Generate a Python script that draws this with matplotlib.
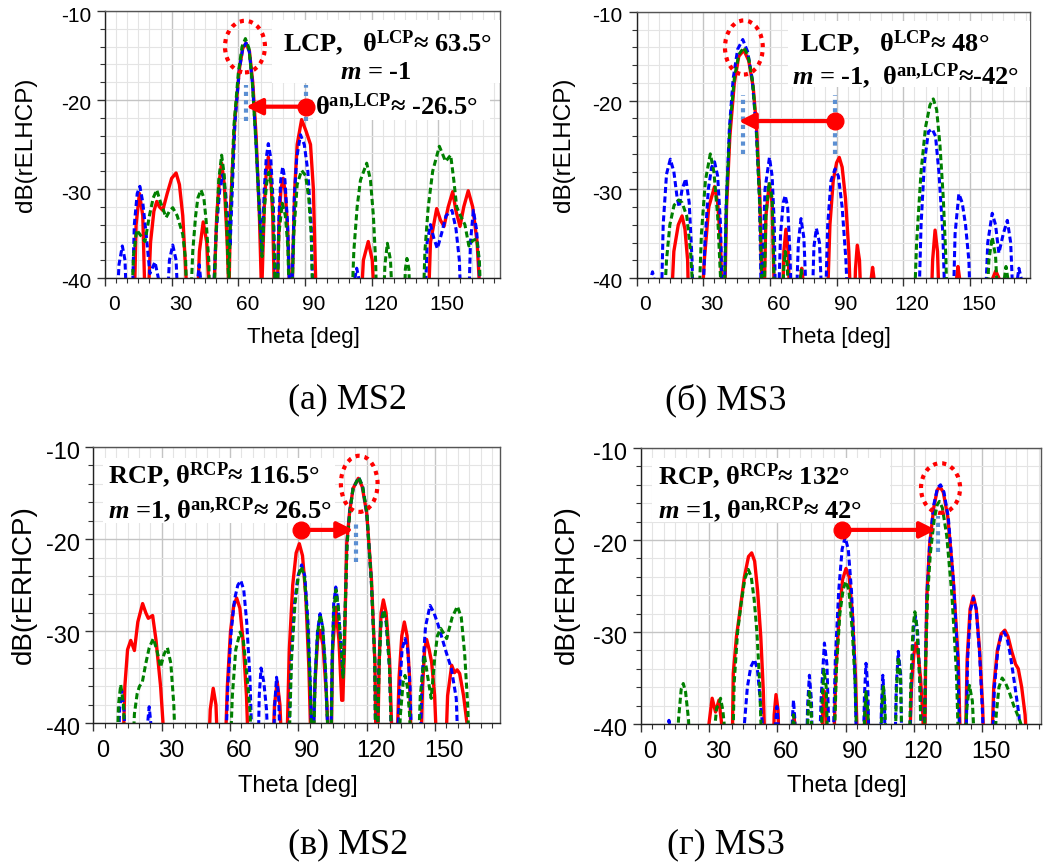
import matplotlib
matplotlib.use("Agg")
import matplotlib.pyplot as plt
from matplotlib.patches import Ellipse, Rectangle
from matplotlib.transforms import ScaledTranslation
from matplotlib.ticker import MultipleLocator

plt.rcParams["axes.unicode_minus"] = False
plt.rcParams["mathtext.fontset"] = "custom"
plt.rcParams["mathtext.rm"] = "Liberation Serif:bold"
plt.rcParams["mathtext.bf"] = "Liberation Serif:bold"
plt.rcParams["mathtext.it"] = "Liberation Serif:italic:bold"

# ---------------------------------------------------------------------------
# Data: (theta [deg], dB).  Points below -40 are clipped.
# ---------------------------------------------------------------------------
# (a) MS2, rELHCP
A_RED = [(13.0, -45), (14.0, -34), (15.5, -30.5), (17.0, -33), (18.3, -45),
         (19.0, -45), (20.5, -36), (22.0, -32.5), (23.3, -31.4), (24.5, -32), (26.0, -32.4),
         (28.0, -30.5), (30.0, -28.8), (32.0, -28.2), (33.5, -29.5), (35.0, -33), (36.5, -40), (37.2, -45),
         (41.3, -45), (42.5, -37), (44.2, -33.7), (45.8, -36), (47.5, -45),
         (48.5, -45), (50.3, -33), (51.5, -29), (52.5, -27.1), (53.7, -29.5), (55.0, -36), (55.8, -42),
         (56.5, -32), (58.5, -22), (60.5, -16.5), (62.0, -14.2), (63.5, -13.6), (65.0, -14.5),
         (66.5, -18), (68.0, -24), (69.5, -33), (70.5, -42),
         (71.7, -32), (72.6, -28), (73.5, -26.4), (74.5, -28), (75.5, -33), (76.5, -45),
         (77.2, -45), (78.3, -34), (79.2, -30), (80.2, -28.8), (81.2, -30.5), (82.3, -35), (83.5, -45),
         (83.8, -45), (85.4, -30), (86.5, -25), (88.5, -22.2), (90.5, -23.5), (92.5, -25), (93.8, -30), (95.3, -45),
         (114.8, -45), (116.3, -38), (118.5, -35.9), (120.3, -38), (121.7, -45),
         (145.3, -45), (146.5, -36), (149.3, -32.2), (151.0, -33.5), (152.6, -34.2), (154.5, -32),
         (156.5, -30.3), (158.0, -32.5), (159.8, -34.2), (161.5, -32), (163.5, -30.2), (165.5, -32),
         (167.5, -36), (169.5, -45)]
A_BLUE = [(5.0, -45), (6.3, -38.5), (7.8, -36.4), (9.0, -38), (10.0, -45),
          (12.0, -45), (13.2, -34), (14.5, -30.5), (15.7, -29.7), (17.0, -31.5), (18.5, -35),
          (20.2, -39.5), (22.5, -38.2), (24.0, -40), (25.0, -45),
          (27.6, -45), (29.0, -38), (30.5, -36.3), (32.0, -38), (33.2, -45),
          (41.3, -45), (41.8, -40), (42.4, -38.5), (43.0, -40), (43.6, -45),
          (48.3, -45), (50.0, -35), (51.7, -30), (53.0, -28.4), (54.3, -30.5), (55.5, -34), (56.3, -36.5),
          (57.0, -32), (58.5, -22.5), (60.5, -16.5), (62.0, -14.2), (63.5, -13.6), (65.0, -14.6),
          (66.5, -18.5), (68.0, -25), (69.5, -32), (70.7, -37.2),
          (71.7, -30), (72.6, -26.5), (73.5, -24.9), (74.6, -26.5), (75.8, -32), (77.0, -45),
          (77.3, -45), (78.3, -33), (79.1, -29), (80.0, -27.5), (81.0, -29), (82.2, -34), (83.5, -45),
          (83.8, -45), (85.2, -31), (86.3, -26.5), (88.0, -23.9), (89.7, -25), (91.3, -28), (92.8, -34), (93.8, -45),
          (112.0, -45), (112.5, -40), (113.3, -38.9), (114.2, -40), (114.7, -45),
          (143.8, -45), (145.0, -36), (146.5, -34), (148.0, -35.5), (149.6, -36.7), (151.5, -35),
          (153.5, -33), (156.2, -32.4), (158.0, -34.5), (159.5, -38), (160.5, -45),
          (163.5, -45), (164.5, -36), (165.8, -32.4), (167.2, -34.5), (168.3, -38), (169.3, -45)]
A_GREEN = [(11.8, -45), (12.8, -37.5), (14.3, -34.6), (16.0, -35.2), (18.0, -35.9), (20.0, -33),
           (21.7, -31), (23.3, -30.1), (25.0, -31.5), (27.5, -33.2), (29.0, -32.5), (30.5, -32.1),
           (32.5, -33), (35.0, -35.1), (36.3, -38), (37.0, -45),
           (38.2, -45), (39.5, -37), (40.8, -33), (41.8, -31), (43.2, -30.1), (44.5, -31), (45.5, -33.5),
           (46.7, -38), (47.3, -45),
           (48.7, -45), (50.0, -35), (51.2, -29), (52.5, -26.2), (53.7, -28.5), (54.8, -34), (55.7, -41),
           (56.5, -33), (58.0, -23), (60.0, -17), (61.7, -14), (63.2, -13.1), (64.8, -14.2),
           (66.3, -18), (68.0, -25), (69.5, -33), (70.7, -37.6),
           (71.8, -32), (72.8, -29.3), (73.8, -28.1), (74.8, -29.5), (75.8, -33.5), (77.0, -45),
           (77.3, -45), (78.3, -35), (79.8, -31.6), (81.2, -33), (82.3, -36.5), (83.2, -45),
           (83.8, -45), (85.0, -35), (86.5, -29.5), (88.5, -27.9), (90.3, -28.5), (91.7, -31), (92.8, -35), (93.8, -45),
           (110.8, -45), (112.0, -37), (113.5, -32), (115.0, -29), (117.8, -27.1), (119.5, -29),
           (120.8, -33), (121.8, -38), (122.5, -45),
           (125.0, -45), (126.0, -38.5), (127.1, -36.1), (128.5, -38), (129.8, -45),
           (134.5, -45), (135.2, -39), (135.9, -37.8), (136.8, -39), (137.5, -45),
           (143.0, -45), (144.0, -37), (145.5, -32), (147.5, -28), (150.5, -25.2), (153.3, -26.9),
           (155.6, -26.2), (157.0, -29), (158.3, -32), (160.0, -33), (162.0, -34), (163.8, -36.4),
           (165.5, -35.8), (167.3, -35.6), (168.5, -38), (169.5, -45)]

# (б) MS3, rELHCP
B_RED = [(15.3, -45), (16.8, -37), (18.8, -34), (20.5, -33), (21.8, -34.5), (23.0, -38), (23.6, -45),
         (29.0, -45), (30.5, -38), (32.5, -32), (35.1, -29.7), (36.5, -31.5), (37.8, -36), (38.7, -45),
         (39.5, -45), (40.5, -32), (42.0, -24), (44.0, -18), (46.0, -15), (48.3, -14.3), (50.5, -15.5),
         (52.5, -18.5), (54.0, -23), (55.5, -31), (56.8, -45),
         (57.2, -45), (58.2, -33), (59.7, -29.4), (61.0, -31.5), (62.3, -45),
         (65.5, -45), (66.3, -37), (67.2, -34.5), (68.2, -37), (69.2, -45),
         (73.3, -45), (73.8, -40), (74.3, -38.9), (74.8, -40), (75.3, -45),
         (85.6, -45), (87.0, -34), (88.5, -29), (90.0, -27), (91.2, -26.4), (92.5, -27.5), (94.0, -31),
         (95.5, -37), (96.6, -45),
         (97.8, -45), (98.5, -39), (99.3, -36.3), (100.3, -38), (101.3, -45),
         (105.0, -45), (105.6, -40), (106.2, -38.8), (106.8, -40), (107.3, -45),
         (132.3, -45), (133.2, -38), (134.3, -34.6), (135.4, -37), (136.4, -45),
         (143.6, -45), (144.0, -40), (144.6, -38.7), (145.3, -40), (145.8, -45),
         (159.3, -45), (160.3, -40), (161.6, -39.2), (163.0, -40), (164.0, -45)]
B_BLUE = [(6.0, -45), (6.5, -40), (7.2, -39.3), (7.8, -40), (8.3, -45),
          (11.0, -45), (12.0, -34), (13.5, -28.3), (15.2, -26.6), (16.8, -28), (18.3, -31), (19.2, -32),
          (20.5, -30), (22.2, -28.8), (23.7, -31.5), (25.0, -38), (25.6, -45),
          (29.5, -45), (30.8, -36), (32.3, -30), (33.8, -27.5), (35.1, -26.9), (36.5, -28.5), (37.8, -34), (38.8, -45),
          (39.3, -45), (40.3, -32), (41.8, -23), (43.5, -17.5), (45.5, -14.2), (47.8, -13.1), (50.0, -14.5),
          (52.0, -17.5), (53.8, -23), (55.3, -31), (56.3, -45),
          (56.8, -38), (57.8, -30), (59.8, -26.4), (61.0, -28.5), (62.0, -34), (62.6, -45),
          (63.6, -45), (64.8, -35), (66.0, -31.5), (66.9, -30.7), (68.0, -32), (69.0, -37), (69.9, -45),
          (71.6, -45), (72.8, -36), (74.0, -33.3), (75.3, -35.5), (76.8, -45),
          (78.8, -45), (79.8, -36.5), (80.9, -34.4), (82.3, -36), (83.8, -45),
          (84.8, -45), (86.0, -34), (87.5, -29), (89.3, -27.7), (90.8, -28.5), (92.5, -32), (94.2, -38), (95.3, -45),
          (126.8, -45), (128.0, -34), (129.5, -27), (131.3, -23.5), (133.0, -23.2), (134.5, -24),
          (136.0, -28), (137.8, -35), (139.0, -45),
          (142.3, -45), (143.3, -35), (145.0, -30.5), (146.5, -31.5), (148.0, -34), (149.5, -38), (150.4, -45),
          (156.6, -45), (158.0, -36), (160.0, -32.7), (161.5, -34), (163.0, -37.2), (165.0, -35),
          (166.8, -33.5), (168.3, -36), (169.8, -45),
          (171.0, -45), (171.4, -40), (172.0, -38.9), (173.0, -40), (173.6, -45)]
B_GREEN = [(12.0, -45), (13.5, -38), (15.0, -34), (16.9, -31.8), (18.9, -31.2), (20.5, -31.5),
           (22.6, -33), (24.3, -37), (25.5, -42), (26.4, -45),
           (27.8, -45), (29.2, -35), (31.0, -29), (33.2, -26), (34.8, -28), (36.5, -33), (37.8, -40), (38.4, -45),
           (39.3, -45), (40.5, -31), (42.0, -23), (44.0, -17.5), (46.0, -14.8), (48.3, -14), (50.3, -15),
           (52.3, -18), (54.0, -23.5), (55.5, -32), (56.8, -45),
           (57.2, -45), (58.2, -33), (59.6, -29.2), (61.0, -31), (62.3, -45),
           (65.5, -45), (66.2, -39), (66.9, -37), (67.8, -38.5), (68.8, -45),
           (73.2, -45), (73.6, -40.5), (74.1, -39.1), (74.6, -40.5), (75.0, -45),
           (124.7, -45), (126.0, -36), (128.0, -28), (130.0, -23), (132.0, -20.5), (133.5, -19.8),
           (135.0, -21), (136.5, -25), (138.0, -31), (139.2, -38), (139.8, -45),
           (157.3, -45), (158.5, -38), (160.0, -35.4), (161.5, -37.5), (163.0, -45),
           (165.0, -45), (165.5, -40), (166.2, -38.7), (167.0, -40), (167.5, -45)]

# (в) MS2, rERHCP
C_RED = [(12.8, -45), (13.8, -36), (15.0, -32), (16.4, -31), (18.0, -32.1), (19.5, -29), (21.6, -27),
         (23.0, -28), (24.1, -28.6), (26.0, -28.3), (27.5, -31), (29.5, -36), (31.9, -45),
         (50.3, -45), (51.3, -38.5), (52.6, -36.2), (53.8, -38), (54.9, -45),
         (57.6, -45), (58.8, -36), (60.2, -30), (61.6, -27.2), (62.9, -26.4), (64.3, -27.5), (65.7, -31),
         (67.2, -37), (68.3, -45),
         (78.5, -45), (79.5, -38), (80.7, -35.5), (81.9, -38), (83.0, -45),
         (84.7, -45), (86.0, -32), (87.5, -25), (89.0, -21.5), (90.4, -20.5), (91.8, -21.8), (93.2, -26),
         (94.6, -34), (95.8, -45),
         (96.0, -45), (97.2, -36), (98.4, -31), (99.5, -29.9), (100.8, -31.5), (102.3, -37), (103.8, -45),
         (104.2, -45), (105.0, -32), (106.4, -27.4), (107.8, -31), (109.0, -37.5),
         (109.5, -37.5), (110.2, -32), (111.2, -20.5), (112.5, -17), (114.0, -14.5), (116.3, -13.4),
         (118.0, -14.3), (120.0, -17.2), (122.1, -24.5), (123.6, -33.5), (124.2, -45),
         (124.6, -45), (125.5, -33), (126.3, -28), (127.3, -26.6), (128.5, -28), (130.0, -33), (131.5, -45),
         (133.0, -45), (134.2, -35), (135.4, -30.5), (136.5, -29), (137.7, -30.5), (138.8, -35), (139.7, -45),
         (143.6, -45), (144.5, -36), (145.4, -32), (146.3, -30.9), (147.4, -32), (148.5, -33.4),
         (149.8, -37), (151.1, -45),
         (154.4, -45), (155.5, -37), (157.3, -33.7), (158.5, -34.5), (159.7, -34.2), (160.8, -34.6),
         (162.5, -37), (164.0, -40), (165.3, -45)]
C_BLUE = [(10.8, -45), (11.5, -38.5), (12.4, -36.4), (13.4, -38.5), (14.6, -45),
          (23.3, -45), (23.8, -40), (24.5, -38.2), (25.2, -40), (25.7, -45),
          (57.8, -45), (59.0, -36), (60.5, -30), (62.0, -26.5), (63.4, -25), (64.7, -24.5), (66.0, -25.5),
          (67.3, -29), (68.7, -35), (70.0, -45),
          (72.2, -45), (72.8, -37), (73.6, -34), (74.8, -35.5), (76.0, -38.5), (77.0, -45),
          (78.8, -45), (79.6, -38), (80.4, -35), (81.3, -37), (82.3, -45),
          (85.4, -45), (86.8, -33), (88.3, -27), (89.8, -24), (91.4, -22.8), (92.8, -24), (94.2, -29),
          (95.3, -36), (96.1, -45),
          (96.3, -45), (97.3, -35), (98.4, -30), (99.5, -28.1), (100.6, -29.5), (101.8, -34), (103.5, -45),
          (104.1, -45), (104.8, -33), (105.5, -27), (106.4, -25.2), (107.4, -27), (108.5, -31), (109.6, -34.9),
          (110.5, -28), (111.3, -20.5), (112.5, -17), (114.0, -14.5), (116.5, -13.3), (118.2, -14.3),
          (120.0, -17.2), (122.0, -24.5), (123.5, -33), (124.0, -45),
          (124.4, -45), (125.3, -34), (126.2, -29), (127.3, -27.7), (128.5, -29), (130.0, -34), (131.2, -45),
          (133.0, -45), (134.3, -37), (135.5, -32), (136.8, -30.8), (138.0, -32), (139.0, -36), (140.0, -45),
          (143.2, -45), (144.3, -35), (145.8, -29.5), (147.8, -27.2), (149.5, -28), (151.2, -29.2),
          (154.9, -32.3), (157.1, -34), (159.3, -37.3), (160.4, -45)]
C_GREEN = [(10.2, -45), (11.0, -38), (12.0, -35.8), (13.2, -38), (14.3, -45),
           (17.0, -45), (18.0, -39), (19.2, -36.8), (20.2, -36), (21.5, -35.5), (23.0, -33.5), (24.5, -31.8),
           (26.3, -30.8), (27.8, -32), (29.5, -33.9), (31.0, -32.5), (32.5, -31.8), (34.0, -33.5),
           (35.3, -38), (36.3, -45),
           (59.8, -45), (61.0, -37), (62.5, -32), (64.4, -30.1), (65.8, -31), (67.3, -34.5), (68.7, -38.5), (69.9, -45),
           (85.6, -45), (87.0, -33), (88.5, -27), (90.0, -24), (91.2, -23), (92.6, -24), (94.0, -29),
           (95.2, -36), (96.1, -45),
           (96.4, -45), (97.4, -35), (98.5, -30), (99.6, -28.2), (100.7, -29.6), (101.9, -34), (103.5, -45),
           (104.2, -45), (104.9, -33), (105.6, -27.5), (106.5, -25.5), (107.5, -27.5), (108.5, -31), (109.6, -35),
           (110.5, -28), (111.4, -20.5), (112.6, -17), (114.0, -14.5), (116.5, -13.3), (118.2, -14.3),
           (120.0, -17), (122.0, -24.5), (123.5, -33), (124.0, -45),
           (124.5, -45), (125.4, -34), (126.3, -29), (127.5, -27.7), (128.6, -29), (130.0, -34), (131.2, -45),
           (133.4, -45), (134.8, -39), (136.0, -35.5), (136.8, -34.8), (137.8, -36), (138.8, -39), (139.8, -45),
           (142.4, -45), (143.5, -37), (145.3, -32.6), (146.8, -35), (148.3, -37.3), (149.8, -33),
           (151.0, -30.5), (152.5, -29.7), (155.1, -30.8), (157.5, -28.5), (159.8, -27.3), (161.5, -28.5),
           (163.0, -32.5), (164.3, -38), (165.3, -45)]

# (г) MS3, rERHCP
D_RED = [(29.1, -45), (29.9, -40), (31.3, -37.2), (32.8, -38.7), (34.3, -37.4), (35.5, -40), (36.3, -45),
         (40.0, -45), (40.6, -34.5), (42.0, -30.5), (43.6, -27.6), (45.5, -24), (47.3, -21.8), (48.7, -21.4),
         (50.0, -22.3), (51.3, -25.5), (52.7, -30.5), (53.8, -36.3), (54.8, -45),
         (58.0, -45), (58.6, -39), (59.4, -36.8), (60.3, -38.5), (61.0, -45),
         (66.7, -45), (67.0, -40.5), (67.4, -39.4), (67.9, -40.5), (68.2, -45),
         (79.5, -45), (80.0, -38.5), (80.6, -36.4), (81.4, -38.5), (82.0, -45),
         (84.5, -45), (85.8, -34), (87.2, -28), (88.7, -24.3), (90.2, -23.1), (91.6, -24), (93.0, -28),
         (94.4, -35), (95.5, -45),
         (97.8, -45), (98.4, -39.5), (99.0, -37.2), (99.7, -39), (100.3, -45),
         (117.9, -45), (119.0, -36), (120.0, -32.5), (121.0, -31.2), (122.0, -32.5), (123.0, -35),
         (124.0, -39), (124.8, -45),
         (125.2, -34), (125.8, -26), (127.0, -20.5), (128.8, -16.5), (130.3, -14.6), (131.5, -14.2),
         (133.0, -14.8), (135.0, -17.5), (137.4, -24.3), (139.6, -33.1), (140.8, -45),
         (142.5, -45), (143.5, -33), (144.8, -27.5), (146.2, -26.1), (147.5, -27.5), (149.0, -32),
         (150.3, -38), (151.2, -45),
         (154.0, -45), (155.2, -36), (156.8, -32), (158.5, -30.2), (160.1, -29.8), (161.5, -30.5),
         (163.0, -32), (164.8, -33.5), (166.0, -34), (167.5, -36), (169.0, -39), (170.3, -45)]
D_BLUE = [(11.3, -45), (11.8, -40.2), (12.3, -39.6), (12.8, -40.2), (13.2, -45),
          (44.6, -45), (45.5, -40), (46.8, -36), (48.3, -33.8), (49.9, -33), (51.2, -34), (52.5, -37.5),
          (53.8, -41), (54.5, -45),
          (58.8, -45), (59.2, -40), (59.8, -38.1), (60.4, -40), (60.8, -45),
          (66.2, -45), (66.6, -39.5), (67.1, -37.4), (67.7, -39.5), (68.1, -45),
          (72.7, -45), (73.3, -38), (74.1, -34.7), (75.0, -37.5), (75.6, -45),
          (78.2, -45), (79.3, -37), (80.7, -31.2), (81.8, -33.5), (83.2, -45),
          (84.3, -45), (85.5, -33), (87.0, -25.5), (88.5, -21), (89.8, -19.7), (91.2, -21), (92.6, -25.5),
          (94.0, -33), (95.0, -45),
          (97.7, -45), (98.3, -37), (99.0, -33.4), (99.8, -36), (100.5, -45),
          (105.3, -45), (105.8, -38), (106.4, -34.7), (107.1, -37.5), (107.6, -45),
          (111.6, -45), (112.3, -36), (113.2, -32.1), (114.2, -34.5), (115.0, -45),
          (118.0, -45), (119.0, -35), (120.0, -29.5), (120.8, -28.3), (121.7, -30), (122.8, -36), (123.8, -45),
          (124.5, -45), (125.2, -33), (125.8, -26), (127.0, -20.5), (128.8, -16.2), (130.5, -14.3),
          (131.8, -14), (133.3, -14.8), (135.2, -17.5), (137.5, -24.5), (139.4, -33), (140.5, -45),
          (142.8, -45), (143.7, -33), (145.0, -27.6), (146.3, -26.3), (147.5, -27.5), (149.0, -32.5),
          (150.3, -39), (151.0, -45),
          (154.3, -45), (155.5, -36), (157.0, -32), (158.5, -30.3), (159.7, -30), (161.0, -30.6),
          (162.5, -32.5), (164.3, -35.5), (166.3, -39), (168.0, -45)]
D_GREEN = [(15.6, -45), (16.5, -39.5), (17.7, -36.2), (18.6, -35.6), (19.6, -36.5), (20.9, -39.5), (21.9, -45),
           (32.0, -45), (32.6, -40), (33.3, -38.2), (34.2, -38), (35.0, -37.2), (36.0, -38.5), (37.0, -41), (37.6, -45),
           (40.2, -45), (41.0, -35.5), (42.5, -30), (44.0, -27), (45.7, -24.2), (47.2, -23.2), (48.5, -24),
           (49.8, -26.5), (51.0, -30), (52.2, -35.5), (53.4, -45),
           (66.3, -45), (66.7, -40.5), (67.1, -39), (67.6, -40.5), (68.0, -45),
           (72.9, -45), (73.5, -39), (74.1, -36.3), (74.9, -38.5), (75.5, -45),
           (79.0, -45), (79.7, -37.5), (80.5, -34.1), (81.5, -36), (82.4, -45),
           (84.7, -45), (86.0, -34), (87.5, -28), (89.0, -25.3), (90.2, -24.5), (91.5, -25.5), (93.0, -30),
           (94.3, -36), (95.2, -45),
           (97.8, -45), (98.4, -39), (99.0, -36.5), (99.8, -38.5), (100.4, -45),
           (105.2, -45), (105.9, -38.5), (106.6, -35.8), (107.3, -37.5), (107.9, -45),
           (111.6, -45), (112.4, -36.5), (113.2, -32.7), (114.2, -34.8), (115.0, -45),
           (117.8, -45), (118.8, -35), (119.7, -29.5), (120.5, -27.8), (121.4, -29.5), (122.6, -35), (123.6, -45),
           (124.5, -45), (125.2, -34), (126.0, -26.5), (127.3, -21.5), (129.0, -17.8), (130.3, -16.2),
           (131.3, -15.8), (132.6, -16.5), (134.5, -19.5), (136.8, -26), (138.8, -34.5), (140.0, -45),
           (142.3, -45), (143.3, -38.5), (144.5, -35.8), (145.8, -37.5), (147.3, -45),
           (155.2, -45), (156.3, -39), (157.5, -36), (158.9, -35), (160.3, -35.5), (162.0, -36.5),
           (164.0, -38), (166.5, -39.5), (168.5, -41), (170.0, -45)]

# main-beam markers: (start theta, end theta, dB) of the red arrow
A_ARROW = (90.5, 63.5, -20.75)
B_ARROW = (89.3, 46.0, -22.3)
C_ARROW = (91.0, 114.1, -19.0)
D_ARROW = (88.3, 129.8, -18.9)
# blue dotted guide lines: theta positions and (low, high) dB span
A_GUIDES = ([63.5, 90.5], (-22.4, -18.3))
B_GUIDES = ([48.0, 89.3], (-26.0, -19.4))
C_GUIDES = ([115.3], (-22.5, -18.3))
D_GUIDES = ([130.5], (-21.3, -17.4))
# dotted ellipse round the main beam: centre theta, centre dB, width deg, height dB
A_RING = (63.0, -14.0, 18.0, 5.8)
B_RING = (48.3, -14.0, 17.0, 6.1)
C_RING = (116.7, -14.0, 16.1, 6.1)
D_RING = (131.8, -14.35, 17.2, 5.4)

# ---------------------------------------------------------------------------
# Styles / layout
# ---------------------------------------------------------------------------
W, H = 1043, 864
RED, BLUE, GREEN = "#ff0000", "#0000ff", "#008000"
GUIDE = "#5b8fd2"
SANS_TOP = ["Liberation Sans", "DejaVu Sans"]
SANS_BOT = ["Liberation Sans Narrow", "Liberation Sans", "DejaVu Sans"]
SERIF = ["Liberation Serif", "DejaVu Serif"]

fig = plt.figure(figsize=(W / 100, H / 100), dpi=100)
fig.patch.set_facecolor("white")


def px_rect(left, top, right, bottom):
    return [left / W, 1 - bottom / H, (right - left) / W, (bottom - top) / H]


def draw_panel(rect, xmax, red, blue, green, sans, fs):
    ax = fig.add_axes(rect)
    ax.set_xlim(0, xmax)
    ax.set_ylim(-40, -10)
    for pts, col, ls, lw in ((red, RED, "-", 2.4),
                             (blue, BLUE, (0, (2.0, 1.1)), 2.2),
                             (green, GREEN, (0, (2.0, 1.1)), 2.2)):
        t = [p[0] for p in pts]
        d = [p[1] for p in pts]
        ax.plot(t, d, color=col, ls=ls, lw=lw, zorder=2)

    ax.xaxis.set_minor_locator(MultipleLocator(5))
    ax.set_xticks([0, 30, 60, 90, 120, 150])
    ax.yaxis.set_major_locator(MultipleLocator(10))
    ax.yaxis.set_minor_locator(MultipleLocator(2))
    ax.grid(which="major", color="#c4c4c4", lw=1.0)
    ax.grid(which="minor", color="#e4e4e4", lw=0.8)
    ax.set_axisbelow(True)
    ax.tick_params(which="major", direction="out", length=6, width=1, color="#333333",
                   labelsize=fs, pad=4)
    ax.tick_params(which="minor", direction="out", length=3.5, width=0.8, color="#333333")
    ax.tick_params(axis="x", which="major", pad=6)
    for sp in ax.spines.values():
        sp.set_color("#555555")
        sp.set_linewidth(1.0)
    ax.spines["left"].set_color("#222222")
    ax.spines["bottom"].set_color("#222222")

    dx = ScaledTranslation(9 / 100, 0, fig.dpi_scale_trans)
    dy = ScaledTranslation(0, -3 / 100, fig.dpi_scale_trans)
    for lbl in ax.get_xticklabels():
        lbl.set_fontfamily(sans)
        lbl.set_transform(lbl.get_transform() + dx)
    for lbl in ax.get_yticklabels():
        lbl.set_fontfamily(sans)
        lbl.set_transform(lbl.get_transform() + dy)
    return ax


def mark_beam(ax, arrow, guides, ring):
    x0, x1, y = arrow
    ax.annotate("", xy=(x1, y), xytext=(x0, y),
                arrowprops=dict(arrowstyle="-|>", color=RED, lw=3, mutation_scale=24,
                                shrinkA=0, shrinkB=0), zorder=6)
    ax.plot([x0], [y], "o", color=RED, ms=12, zorder=7)
    xs, (lo, hi) = guides
    for gx in xs:
        ax.plot([gx, gx], [lo, hi], color=GUIDE, lw=3, ls=(0, (1, 1)),
                solid_capstyle="butt", dash_capstyle="butt", zorder=5)
    cx, cy, w, h = ring
    ax.add_patch(Ellipse((cx, cy), w, h, fill=False, edgecolor=RED, lw=3,
                         ls=(0, (1, 1.2)), zorder=6))


def white_box(ax, x0, x1, y0, y1):
    ax.add_patch(Rectangle((x0, y0), x1 - x0, y1 - y0, facecolor="white",
                           edgecolor="none", zorder=3))


def note(ax, x, y, s, ha="center"):
    ax.text(x, y, s, ha=ha, va="center", fontsize=19, fontweight="bold",
            family="Liberation Serif", zorder=8)


def fig_text(x, y, s, **kw):
    fig.text(x / W, 1 - y / H, s, ha="center", va="center", **kw)


# (a)
ax_a = draw_panel(px_rect(105, 11, 500, 278), 177.8, A_RED, A_BLUE, A_GREEN, SANS_TOP, 15)
white_box(ax_a, 75, 178, -18.1, -11.0)
white_box(ax_a, 93.6, 173.3, -22.3, -18.1)
mark_beam(ax_a, A_ARROW, A_GUIDES, A_RING)
note(ax_a, 127.4, -13.6, "LCP,   θ$^{\\mathrm{LCP}}$≈ 63.5°")
note(ax_a, 122.0, -16.9, "$\\mathit{m}$ = -1")
note(ax_a, 131.0, -20.8, "θ$^{\\mathrm{an{,}LCP}}$≈ -26.5°")

# (б)
ax_b = draw_panel(px_rect(636.5, 12, 1030, 278), 177.0, B_RED, B_BLUE, B_GREEN, SANS_TOP, 15)
white_box(ax_b, 68.2, 177.0, -18.5, -11.0)
mark_beam(ax_b, B_ARROW, B_GUIDES, B_RING)
note(ax_b, 116.1, -13.5, "LCP,   θ$^{\\mathrm{LCP}}$≈ 48°")
note(ax_b, 121.0, -17.2, "$\\mathit{m}$ = -1,  θ$^{\\mathrm{an{,}LCP}}$≈-42°")

# (в)
ax_c = draw_panel(px_rect(93.4, 447, 500, 723.3), 178.5, C_RED, C_BLUE, C_GREEN, SANS_BOT, 17)
white_box(ax_c, 4.2, 106.1, -18.2, -11.2)
mark_beam(ax_c, C_ARROW, C_GUIDES, C_RING)
note(ax_c, 6.4, -13.1, "RCP, θ$^{\\mathrm{RCP}}$≈ 116.5°", ha="left")
note(ax_c, 6.4, -16.9, "$\\mathit{m}$ =1, θ$^{\\mathrm{an{,}RCP}}$≈ 26.5°", ha="left")

# (г)
ax_d = draw_panel(px_rect(641, 448, 1041, 724), 176.0, D_RED, D_BLUE, D_GREEN, SANS_BOT, 17)
white_box(ax_d, 4.8, 109.5, -18.0, -11.1)
mark_beam(ax_d, D_ARROW, D_GUIDES, D_RING)
note(ax_d, 7.3, -13.1, "RCP, θ$^{\\mathrm{RCP}}$≈ 132°", ha="left")
note(ax_d, 7.3, -16.7, "$\\mathit{m}$ =1, θ$^{\\mathrm{an{,}RCP}}$≈ 42°", ha="left")

# axis titles
fig_text(26, 145, "dB(rELHCP)", rotation=90, fontsize=17.5, family=SANS_TOP)
fig_text(564, 145, "dB(rELHCP)", rotation=90, fontsize=17.5, family=SANS_TOP)
fig_text(24, 585, "dB(rERHCP)", rotation=90, fontsize=20, family=SANS_BOT)
fig_text(567, 585, "dB(rERHCP)", rotation=90, fontsize=20, family=SANS_BOT)
fig_text(303, 338, "Theta [deg]", fontsize=16, family=SANS_TOP)
fig_text(834, 338, "Theta [deg]", fontsize=16, family=SANS_TOP)
fig_text(298, 786, "Theta [deg]", fontsize=17, family=SANS_BOT)
fig_text(847, 786, "Theta [deg]", fontsize=17, family=SANS_BOT)

# captions
fig_text(347, 400, "(a) MS2", fontsize=26, family=SERIF)
fig_text(726, 400, "(б) MS3", fontsize=26, family=SERIF)
fig_text(348, 845, "(в) MS2", fontsize=26, family=SERIF)
fig_text(726, 845, "(г) MS3", fontsize=26, family=SERIF)

fig.savefig("out.png", dpi=100, facecolor="white")
